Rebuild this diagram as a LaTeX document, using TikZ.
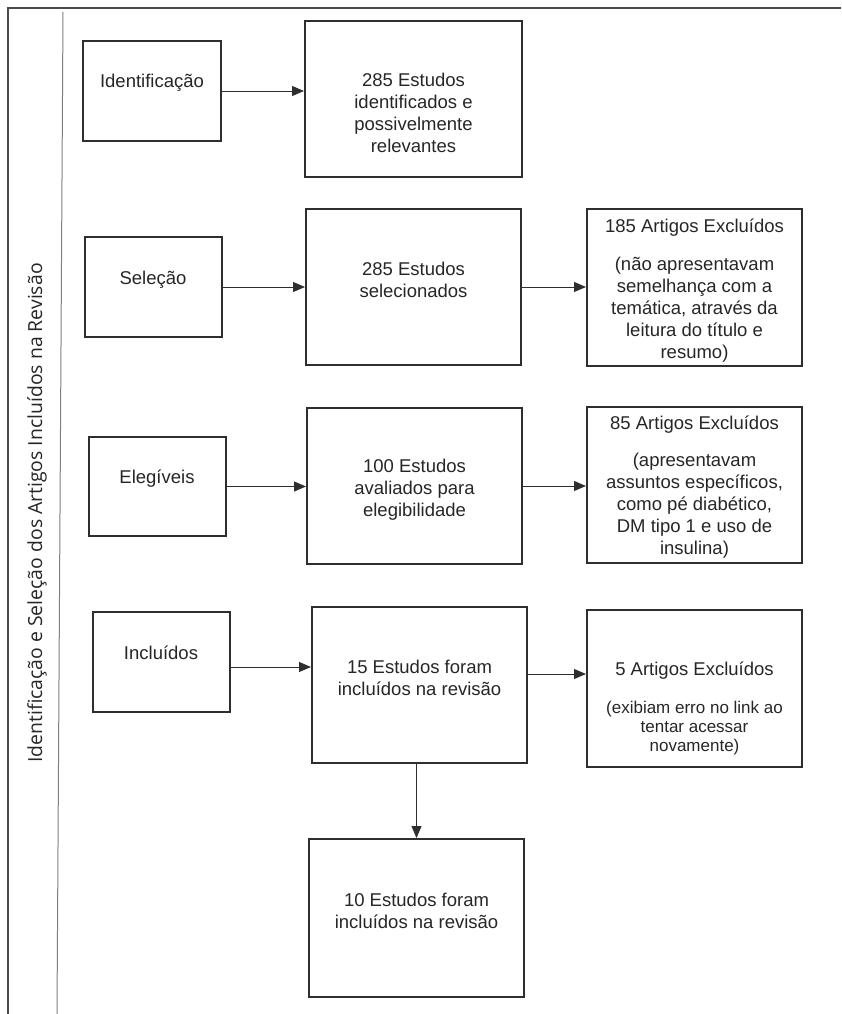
\documentclass[tikz,border=0pt]{standalone}
\usepackage{fontspec}
\setmainfont{Liberation Sans}
\newfontfamily\sidefont{Open Sans}
\usetikzlibrary{arrows.meta, positioning}
\definecolor{linegray}{HTML}{2E2E2E}
\definecolor{framegray}{HTML}{4A4A4A}
\definecolor{textgray}{HTML}{262626}
\tikzset{
  box/.style={draw=linegray, line width=2pt, rectangle, minimum width=215pt, minimum height=156pt, inner sep=0pt},
  stagebox/.style={box, minimum width=137pt, minimum height=100pt},
  txt/.style={align=center, text=textgray, inner sep=0pt, font=\fontsize{18.5}{22}\selectfont},
  smalltxt/.style={txt, font=\fontsize{17}{19}\selectfont},
  flow/.style={draw=linegray, line width=0.9pt, -{Triangle[length=12pt, width=10pt]}},
}

\begin{document}
\begin{tikzpicture}[x=1pt, y=-1pt]
      \useasboundingbox (0,0) rectangle (841,1014);
      % frame
      \draw[framegray, line width=2pt] (8,1014) -- (8,8) -- (841,8);
      \draw[gray, line width=1pt] (63,12) -- (57,1014);
      \node[rotate=90, text=textgray, font=\sidefont\fontsize{19.4}{22}\selectfont]
        (side) at (37,513) {Identificação e Seleção dos Artigos Incluídos na Revisão};

      % stages
      \node[stagebox, minimum width=138pt] (idlab) at (152,91) {};
      \node[txt, yshift=8pt] (idlabtxt) at (idlab) {Identificação};
      \node[stagebox] (sellab) at (153,287) {};
      \node[txt, yshift=7pt] (sellabtxt) at (sellab) {Seleção};
      \node[stagebox, minimum height=99pt] (eleglab) at (157,486.5) {};
      \node[txt, yshift=8pt] (eleglabtxt) at (eleglab) {Elegíveis};
      \node[stagebox] (inclab) at (161,662) {};
      \node[txt, yshift=9pt] (inclabtxt) at (inclab) {Incluídos};

      % studies
      \node[box, minimum width=217pt] (ident) at (413.5,99) {};
      \node[txt, yshift=-14pt] (identtxt) at (ident)
        {285 Estudos\\identificados e\\possivelmente\\relevantes};
      \node[box] (sel) at (413.5,287) {};
      \node[txt, yshift=7pt] (seltxt) at (sel) {285 Estudos\\selecionados};
      \node[box] (eleg) at (414.5,486) {};
      \node[txt, yshift=-3.5pt] (elegtxt) at (eleg)
        {100 Estudos\\avaliados para\\elegibilidade};
      \node[box] (incl) at (419.5,685) {};
      \node[txt, yshift=7pt] (incltxt) at (incl)
        {15 Estudos foram\\incluídos na revisão};
      \node[box, minimum height=158pt] (final) at (416.5,918) {};
      \node[txt, yshift=7pt] (finaltxt) at (final)
        {10 Estudos foram\\incluídos na revisão};

      % excluded
      \node[box, minimum height=157pt] (exc1) at (694.5,287.5) {};
      \node[txt, yshift=-3pt] (exc1txt) at (exc1)
        {185 Artigos Excluídos\\[16pt](não apresentavam\\semelhança com a\\temática, através da\\leitura do título e\\resumo)};
      \node[box] (exc2) at (694.5,485) {};
      \node[txt, yshift=-2pt] (exc2txt) at (exc2)
        {85 Artigos Excluídos\\[15pt](apresentavam\\assuntos específicos,\\como pé diabético,\\DM tipo 1 e uso de\\insulina)};
      \node[box, minimum height=157pt] (exc3) at (694.5,688.5) {};
      \node[smalltxt, yshift=-20pt] (exc3txt) at (exc3)
        {{\fontsize{18.5}{22}\selectfont 5 Artigos Excluídos}\\[19pt](exibiam erro no link ao\\tentar acessar\\novamente)};

      % arrows
      \draw[flow] (idlab) -- (idlab -| ident.west);
      \draw[flow] (sellab) -- (sellab -| sel.west);
      \draw[flow] (eleglab) -- (eleglab -| eleg.west);
      \draw[flow] ([yshift=-5pt]inclab.east) -- ([yshift=-5pt]inclab.east -| incl.west);
      \draw[flow] (sel) -- (sel -| exc1.west);
      \draw[flow] (eleg) -- (eleg -| exc2.west);
      \draw[flow] ([yshift=11pt]incl.east) -- ([yshift=11pt]incl.east -| exc3.west);
      \draw[flow] (final.north |- incl.south) -- (final);
    \end{tikzpicture}
\end{document}
